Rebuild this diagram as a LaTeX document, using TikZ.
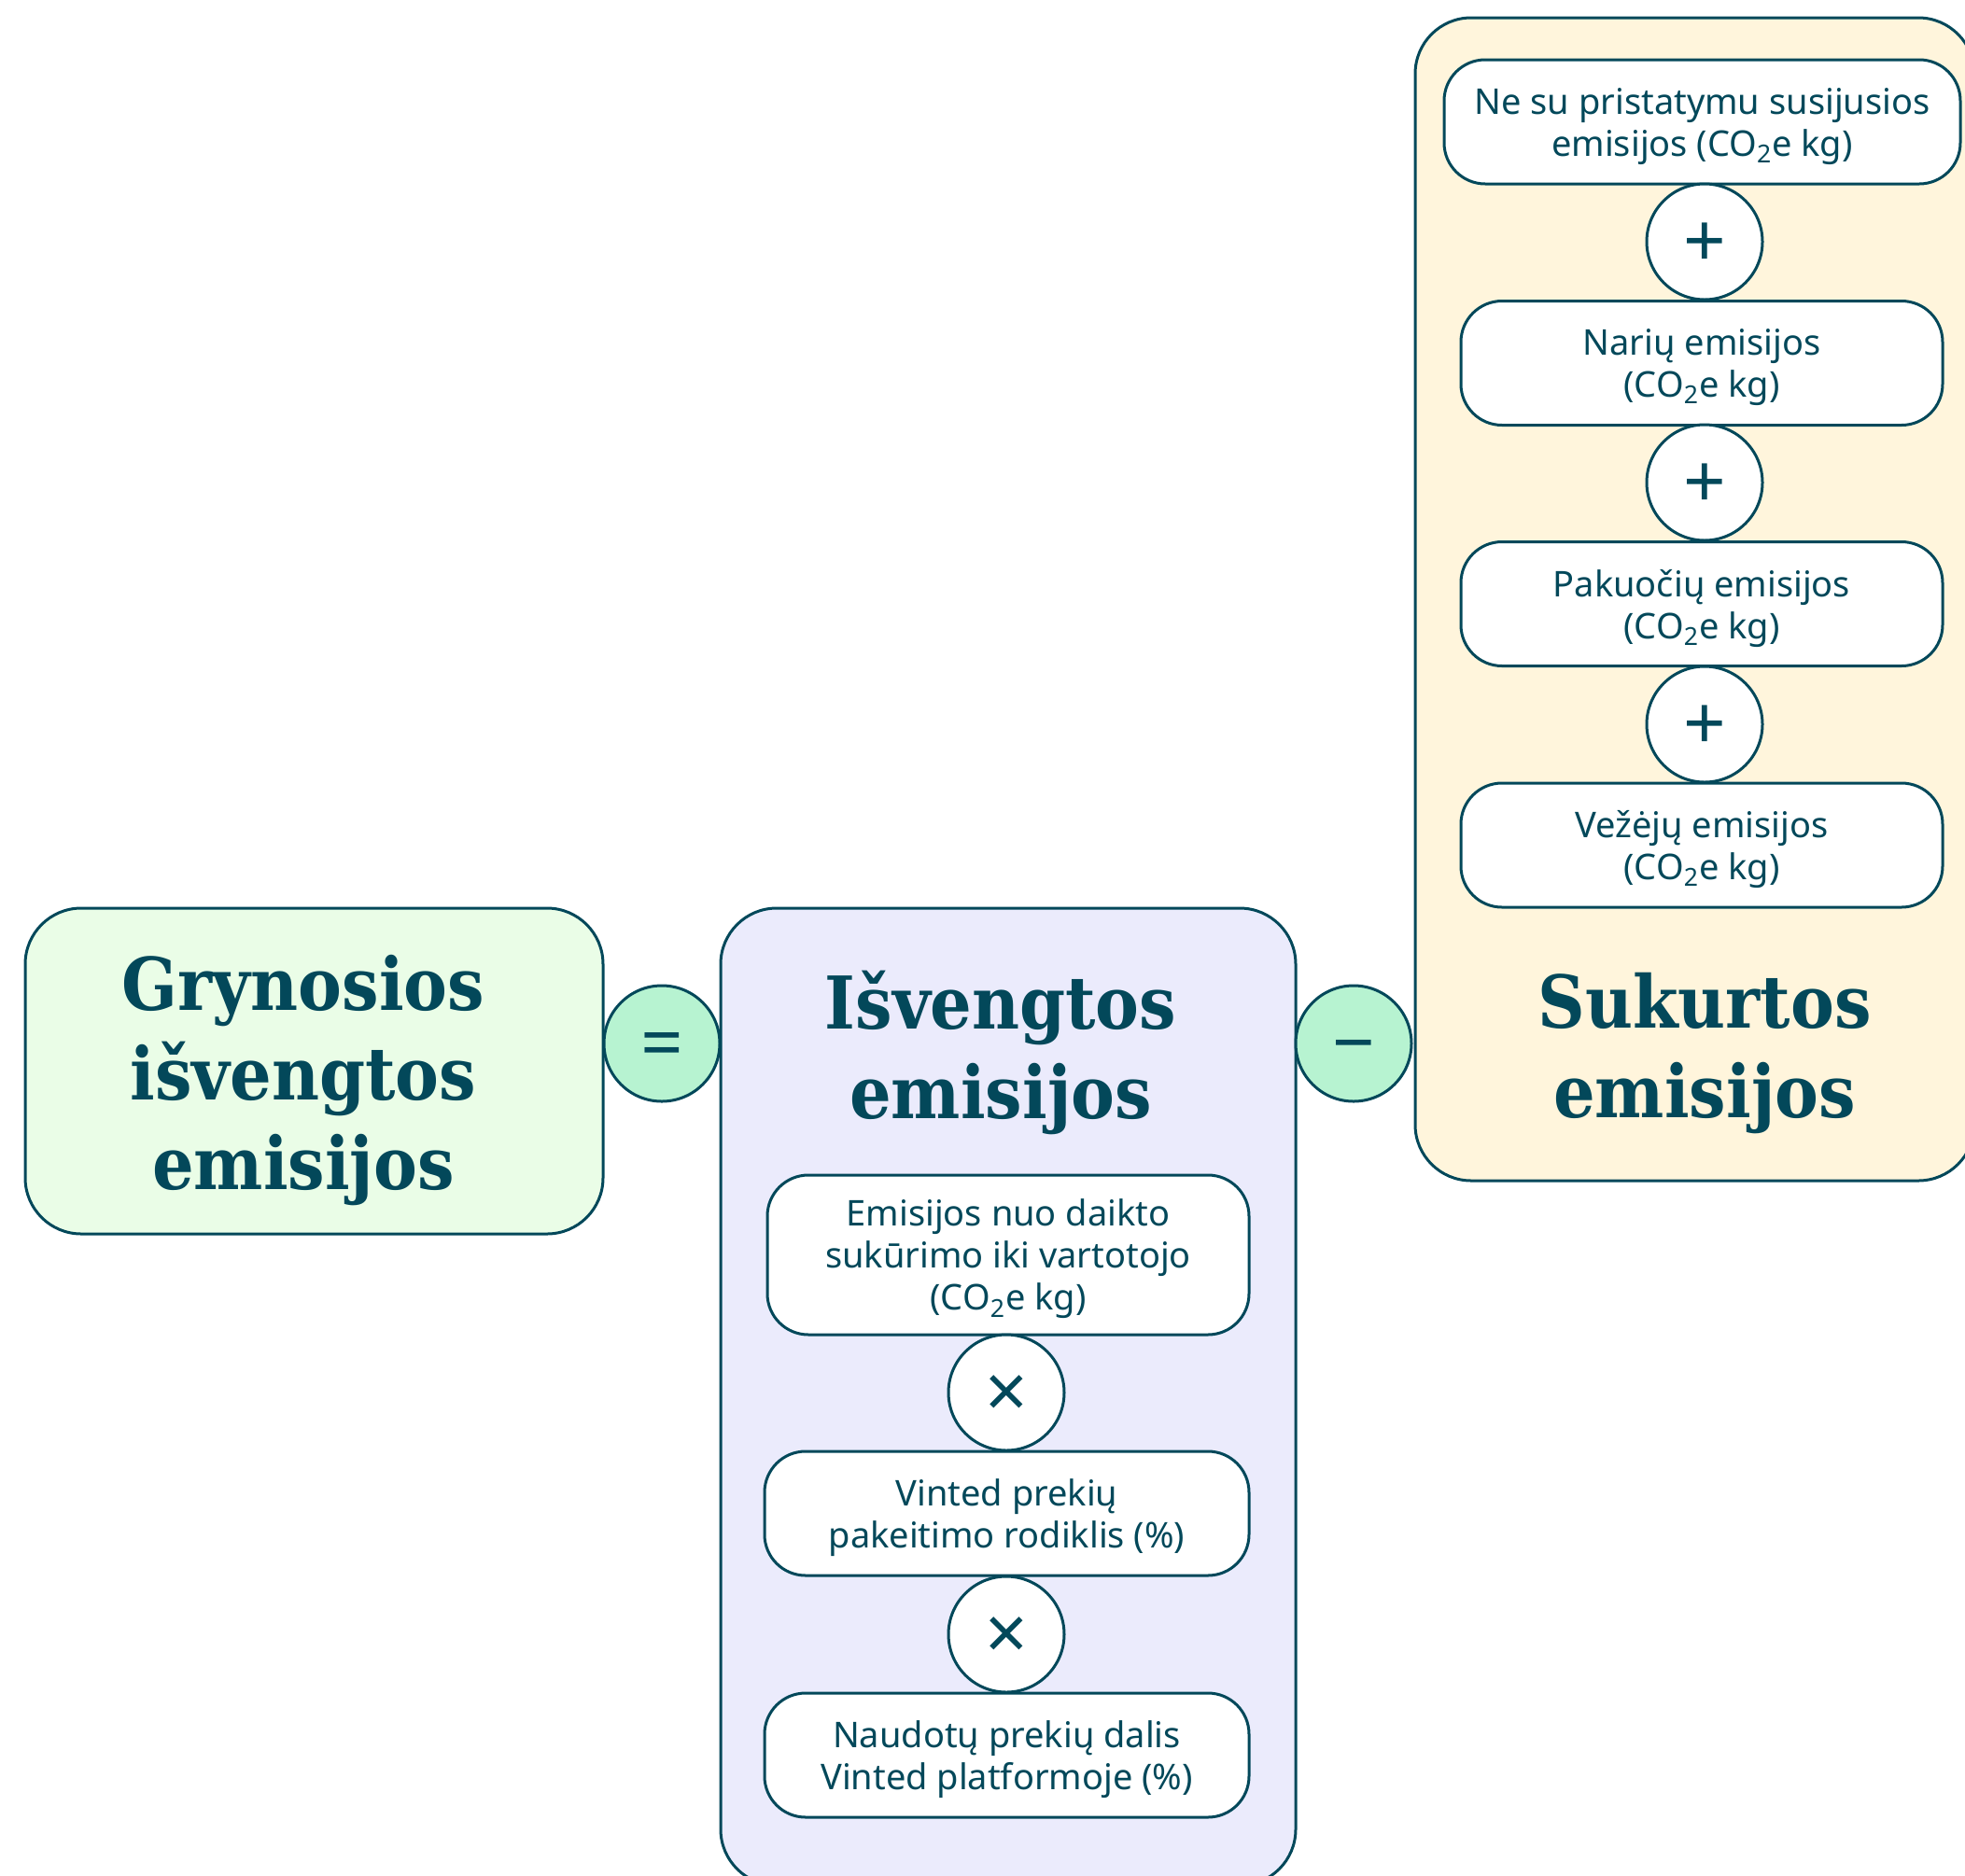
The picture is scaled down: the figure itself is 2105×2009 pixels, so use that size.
\documentclass[tikz,border=0pt]{standalone}
\usepackage{fontspec}
\setmainfont{Noto Sans}
\newfontfamily\headfont{DejaVu Serif Condensed}
\definecolor{ink}{HTML}{03485A}
\definecolor{netfill}{HTML}{EAFDE7}
\definecolor{opfill}{HTML}{B7F3D1}
\definecolor{lilac}{HTML}{EBEBFC}
\definecolor{cream}{HTML}{FFF5DC}
\tikzset{
  bigbox/.style={draw=ink, line width=1.5pt, rounded corners=30pt, inner sep=0pt},
  termbox/.style={draw=ink, line width=1.5pt, fill=white, rounded corners=22pt, align=center,
    text=ink, font=\fontsize{19}{22.5}\selectfont, minimum height=66.5pt, text depth=0pt},
  opnode/.style={circle, draw=ink, line width=1.5pt, fill=white, minimum size=62pt, inner sep=0pt,
    text=ink, font=\fontsize{40}{40}\selectfont\bfseries, text height=27.5pt, text depth=0pt},
  headtext/.style={align=center, text=ink, font=\headfont\bfseries\fontsize{39}{48}\selectfont},
}
\begin{document}
\begin{tikzpicture}[x=0.5pt,y=0.5pt,yscale=-1,xscale=1]
\useasboundingbox (0,0) rectangle (2105,2009);

%Rounded Rect (net result)
\node [bigbox, fill=netfill, minimum width=309.5pt, minimum height=174.5pt] (net) at (336.5,1147.5) {};
%Rounded Rect (avoided)
\node [bigbox, fill=lilac, minimum width=308pt, minimum height=523.5pt] (avoided) at (1080,1496.5) {};
%Rounded Rect (created)
\node [bigbox, fill=cream, minimum width=299.5pt, minimum height=623pt] (created) at (1815.5,642) {};

% Text Node
\node [headtext] (nettitle) at (325,1158) {Grynosios\\išvengtos\\emisijos};
% Text Node
\node [headtext] (avoidedtitle) at (1072,1128) {Išvengtos\\emisijos};
% Text Node
\node [headtext] (createdtitle) at (1826,1129) {Sukurtos\\emisijos};

%Operators between the blocks
\node [opnode, fill=opfill] (eq) at (709,1118) {=};
\node [opnode, fill=opfill] (minus) at (1450,1118) {−};

%Created emissions terms
\node [termbox, minimum width=276.5pt] (nondelivery) at (1823.5,130.5) {Ne su pristatymu susijusios\\emisijos (CO\textsubscript{2}e kg)};
\node [termbox, minimum width=258pt] (members) at (1823,389) {Narių emisijos\\(CO\textsubscript{2}e kg)};
\node [termbox, minimum width=258pt] (packaging) at (1823,647) {Pakuočių emisijos\\(CO\textsubscript{2}e kg)};
\node [termbox, minimum width=258pt] (carriers) at (1823,905.5) {Vežėjų emisijos\\(CO\textsubscript{2}e kg)};
\node [opnode] (plusa) at (1826,259) {+};
\node [opnode] (plusb) at (1826,517) {+};
\node [opnode] (plusc) at (1826,776) {+};

%Avoided emissions factors
\node [termbox, minimum width=258pt, minimum height=85.5pt] (production) at (1080,1344.5) {Emisijos nuo daikto\\sukūrimo iki vartotojo\\(CO\textsubscript{2}e kg)};
\node [termbox, minimum width=259.5pt] (replacement) at (1078.5,1621.5) {Vinted prekių\\pakeitimo rodiklis (\%)};
\node [termbox, minimum width=259.5pt] (secondhand) at (1078.5,1880.5) {Naudotų prekių dalis\\Vinted platformoje (\%)};
\node [opnode] (timesa) at (1078,1492) {×};
\node [opnode] (timesb) at (1078,1751) {×};

\end{tikzpicture}
\end{document}
